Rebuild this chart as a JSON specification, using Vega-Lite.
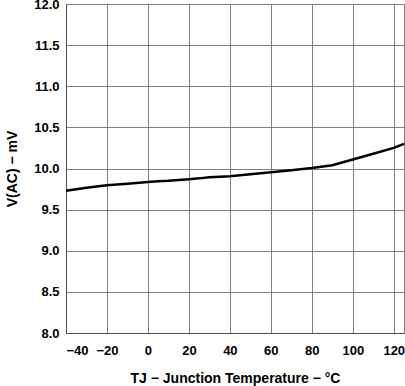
{
  "$schema": "https://vega.github.io/schema/vega-lite/v6.json",
  "width": 338,
  "height": 329,
  "autosize": {"type": "none"},
  "padding": {"left": 66, "top": 4, "right": 1, "bottom": 53},
  "background": "white",
  "config": {
    "view": {"stroke": "#808080", "strokeWidth": 1},
    "font": "Liberation Sans",
    "axis": {
      "labelFont": "Liberation Sans",
      "labelFontWeight": "bold",
      "labelFontSize": 13,
      "labelColor": "#000000",
      "titleFont": "Liberation Sans",
      "titleFontWeight": "bold",
      "titleFontSize": 14,
      "titleColor": "#000000",
      "gridColor": "#808080",
      "gridOpacity": 1,
      "gridWidth": 1,
      "domainColor": "#505050",
      "ticks": false
    }
  },
  "data": {
    "values": [
      {"t": -40, "v": 9.73},
      {"t": -30, "v": 9.765},
      {"t": -20, "v": 9.795},
      {"t": -10, "v": 9.815},
      {"t": 0, "v": 9.835},
      {"t": 5, "v": 9.845},
      {"t": 10, "v": 9.85},
      {"t": 20, "v": 9.87},
      {"t": 25, "v": 9.88},
      {"t": 30, "v": 9.895},
      {"t": 40, "v": 9.905},
      {"t": 50, "v": 9.93},
      {"t": 60, "v": 9.955},
      {"t": 70, "v": 9.98},
      {"t": 80, "v": 10.005},
      {"t": 90, "v": 10.04},
      {"t": 100, "v": 10.11},
      {"t": 110, "v": 10.18},
      {"t": 120, "v": 10.25},
      {"t": 125, "v": 10.3}
    ]
  },
  "mark": {"type": "line", "color": "#000000", "strokeWidth": 2.5},
  "encoding": {
    "x": {
      "field": "t",
      "type": "quantitative",
      "scale": {"domain": [-40, 125], "nice": false, "zero": false},
      "axis": {
        "values": [-40, -20, 0, 20, 40, 60, 80, 100, 120],
        "title": "TJ − Junction Temperature − °C",
        "titlePadding": 14,
        "labelPadding": 11,
        "labelExpr": "replace(datum.label, '-', '−')"
      }
    },
    "y": {
      "field": "v",
      "type": "quantitative",
      "scale": {"domain": [8, 12], "nice": false, "zero": false},
      "axis": {
        "values": [8, 8.5, 9, 9.5, 10, 10.5, 11, 11.5, 12],
        "format": ".1f",
        "title": "V(AC) − mV",
        "titlePadding": 14,
        "labelPadding": 7
      }
    }
  }
}
